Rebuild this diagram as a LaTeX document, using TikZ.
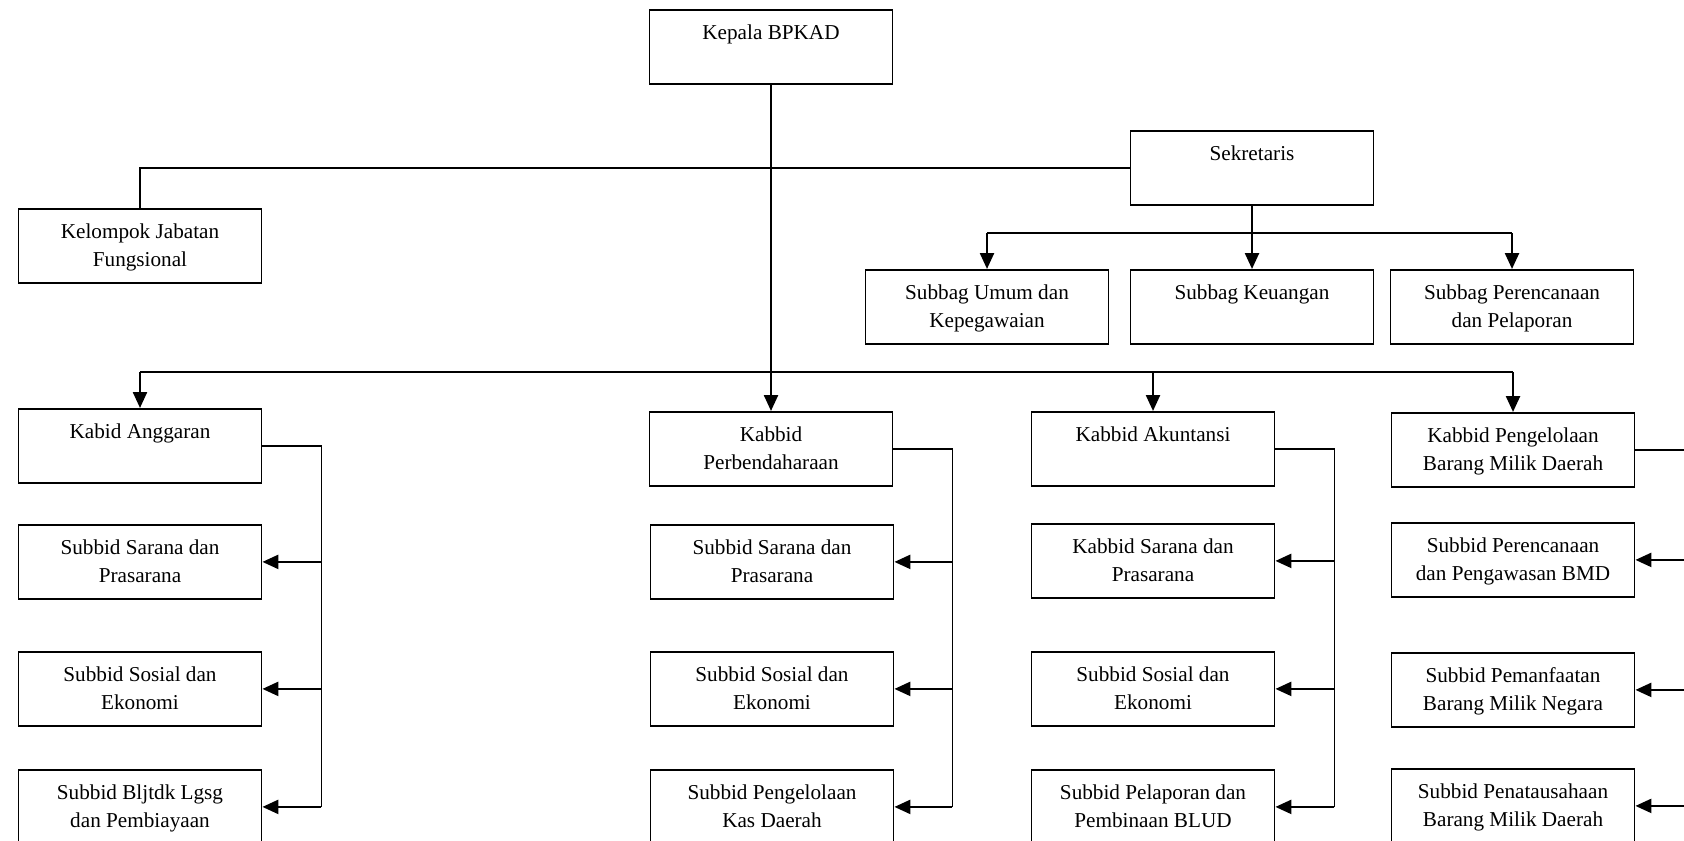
\documentclass[tikz,border=0pt]{standalone}
\usepackage{fontspec}
\setmainfont{Liberation Serif}
\usetikzlibrary{arrows.meta,positioning}
\newcommand{\bt}[1]{\parbox[c][37pt][t]{118pt}{\centering\rule{0pt}{15pt}#1\par}}

\begin{document}
\begin{tikzpicture}[
  x=0.5pt, y=-0.5pt,
  font=\fontsize{10.6pt}{14pt}\selectfont,
  box/.style={draw, line width=0.9pt, anchor=north, inner sep=0pt, minimum width=121.5pt, minimum height=37pt},
  ln/.style={line width=0.9pt},
  arr/.style={-{Triangle[length=8pt,width=7pt]}, line width=1.2pt}
]
\clip (0,0) rectangle (1684,840);
% pimpinan dan sekretariat
\node[box] (kepala) at (771,9) {\bt{Kepala BPKAD}};
\node[box] (sekre) at (1252,130) {\bt{Sekretaris}};
\node[box] (jafung) at (140,208) {\bt{Kelompok Jabatan\\Fungsional}};
\node[box] (umum) at (987,269) {\bt{Subbag Umum dan\\Kepegawaian}};
\node[box] (keu) at (1252,269) {\bt{Subbag Keuangan}};
\node[box] (renlap) at (1512,269) {\bt{Subbag Perencanaan\\dan Pelaporan}};
% bidang
\node[box] (angg) at (140,408) {\bt{Kabid Anggaran}};
\node[box] (perb) at (771,411) {\bt{Kabbid\\Perbendaharaan}};
\node[box] (akun) at (1153,411) {\bt{Kabbid Akuntansi}};
\node[box] (bmd) at (1513,412) {\bt{Kabbid Pengelolaan\\Barang Milik Daerah}};
% subbidang
\node[box] (angg1) at (140,524) {\bt{Subbid Sarana dan\\Prasarana}};
\node[box] (angg2) at (140,651) {\bt{Subbid Sosial dan\\Ekonomi}};
\node[box] (angg3) at (140,769) {\bt{Subbid Bljtdk Lgsg\\dan Pembiayaan}};
\node[box] (perb1) at (772,524) {\bt{Subbid Sarana dan\\Prasarana}};
\node[box] (perb2) at (772,651) {\bt{Subbid Sosial dan\\Ekonomi}};
\node[box] (perb3) at (772,769) {\bt{Subbid Pengelolaan\\Kas Daerah}};
\node[box] (akun1) at (1153,523) {\bt{Kabbid Sarana dan\\Prasarana}};
\node[box] (akun2) at (1153,651) {\bt{Subbid Sosial dan\\Ekonomi}};
\node[box] (akun3) at (1153,769) {\bt{Subbid Pelaporan dan\\Pembinaan BLUD}};
\node[box] (bmd1) at (1513,522) {\bt{Subbid Perencanaan\\dan Pengawasan BMD}};
\node[box] (bmd2) at (1513,652) {\bt{Subbid Pemanfaatan\\Barang Milik Negara}};
\node[box] (bmd3) at (1513,768) {\bt{Subbid Penatausahaan\\Barang Milik Daerah}};
% garis komando
\coordinate (sekbus) at (1252,233);
\coordinate (bus) at (771,372);
\draw[ln] (sekre.west) -| (jafung.north);
\draw[arr] (sekre.south) -- (keu.north);
\draw[ln] (sekbus -| umum) -- (sekbus -| renlap);
\draw[arr] (sekbus -| umum) -- (umum.north);
\draw[arr] (sekbus -| renlap) -- (renlap.north);
\draw[arr] (kepala) -- (perb);
\draw[ln] (bus -| angg) -- (bus -| bmd);
\draw[arr] (bus -| angg) -- (angg.north);
\draw[arr] (bus -| akun) -- (akun.north);
\draw[arr] (bus -| bmd) -- (bmd.north);
% cabang tiap bidang
\draw[ln] (angg.east) -- ++(59,0) coordinate (c1) -- (c1 |- angg3);
\draw[arr] (c1 |- angg1) -- (angg1.east);
\draw[arr] (c1 |- angg2) -- (angg2.east);
\draw[arr] (c1 |- angg3) -- (angg3.east);
\draw[ln] (perb.east) -- ++(59,0) coordinate (c2) -- (c2 |- perb3);
\draw[arr] (c2 |- perb1) -- (perb1.east);
\draw[arr] (c2 |- perb2) -- (perb2.east);
\draw[arr] (c2 |- perb3) -- (perb3.east);
\draw[ln] (akun.east) -- ++(59,0) coordinate (c3) -- (c3 |- akun3);
\draw[arr] (c3 |- akun1) -- (akun1.east);
\draw[arr] (c3 |- akun2) -- (akun2.east);
\draw[arr] (c3 |- akun3) -- (akun3.east);
\draw[ln] (bmd.east) -- ++(59,0) coordinate (c4) -- (c4 |- bmd3);
\draw[arr] (c4 |- bmd1) -- (bmd1.east);
\draw[arr] (c4 |- bmd2) -- (bmd2.east);
\draw[arr] (c4 |- bmd3) -- (bmd3.east);
\end{tikzpicture}
\end{document}
